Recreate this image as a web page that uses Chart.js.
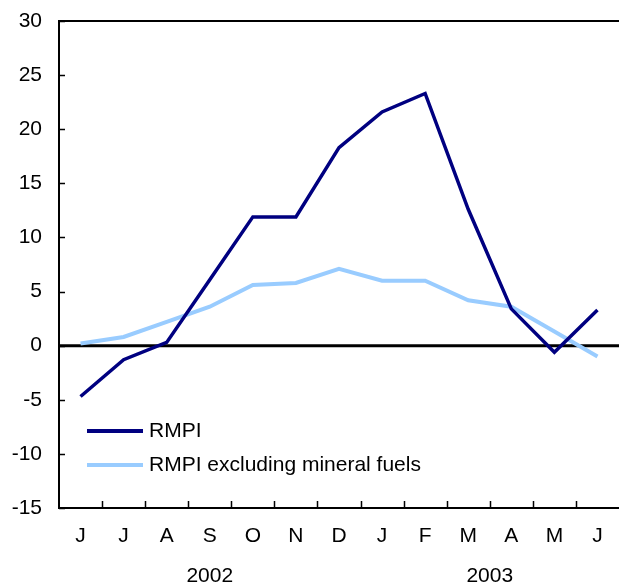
<!DOCTYPE html>
<html>
<head>
<meta charset="utf-8">
<script src="https://cdn.jsdelivr.net/npm/chart.js@4.4.0/dist/chart.umd.min.js"></script>
<style>
  html, body { margin: 0; padding: 0; background: #fff; }
  #wrap { width: 619px; height: 585px; }
</style>
</head>
<body>
<div id="wrap"><canvas id="rmpiChart" width="619" height="585"></canvas></div>
<script>
const month_labels = ['J', 'J', 'A', 'S', 'O', 'N', 'D', 'J', 'F', 'M', 'A', 'M', 'J'];
const year_labels = ['2002', '2003'];
const series_names = ['RMPI', 'RMPI excluding mineral fuels'];

const rmpi = [-4.7, -1.3, 0.3, 6.1, 11.9, 11.9, 18.3, 21.6, 23.3, 12.6, 3.4, -0.6, 3.3];
const rmpi_ex_fuels = [0.2, 0.8, 2.2, 3.6, 5.6, 5.8, 7.1, 6.0, 6.0, 4.2, 3.6, 1.3, -1.0];

const FONT = 'Liberation Sans, Arial, sans-serif';
const FSIZE = 21;

// axis decorations: inward ticks, top rule, zero line, years, legend
const decorations = {
    id: 'decorations',
    beforeDatasetsDraw(chart) {
        const ctx = chart.ctx;
        const area = chart.chartArea;
        const y = chart.scales.y;
        ctx.save();
        ctx.strokeStyle = '#000';
        ctx.lineWidth = 3;
        ctx.beginPath();
        ctx.moveTo(area.left, y.getPixelForValue(0));
        ctx.lineTo(area.right, y.getPixelForValue(0));
        ctx.stroke();
        ctx.restore();
    },
    afterDraw(chart) {
        const ctx = chart.ctx;
        const area = chart.chartArea;
        const x = chart.scales.x;
        const y = chart.scales.y;
        ctx.save();
        ctx.strokeStyle = '#000';
        ctx.lineWidth = 2;
        ctx.beginPath();
        ctx.moveTo(area.left, area.top);
        ctx.lineTo(chart.width, area.top);
        ctx.stroke();

        ctx.lineWidth = 1.5;
        ctx.beginPath();
        y.ticks.forEach(t => {
            const py = Math.round(y.getPixelForValue(t.value)) + 0.5;
            ctx.moveTo(area.left, py);
            ctx.lineTo(area.left + 6, py);
        });
        for (let i = 1; i < month_labels.length; i++) {
            const px = Math.round((x.getPixelForValue(i - 1) + x.getPixelForValue(i)) / 2) + 0.5;
            ctx.moveTo(px, area.bottom);
            ctx.lineTo(px, area.bottom - 7);
        }
        ctx.stroke();

        ctx.fillStyle = '#000';
        ctx.font = FSIZE + 'px ' + FONT;
        ctx.textAlign = 'center';
        ctx.textBaseline = 'middle';
        ctx.fillText(year_labels[0], x.getPixelForValue(3), 576);
        ctx.fillText(year_labels[1], (x.getPixelForValue(9) + x.getPixelForValue(10)) / 2, 576);

        // legend inside plot
        const rows = [431, 465];
        chart.data.datasets.forEach((ds, i) => {
            ctx.strokeStyle = ds.borderColor;
            ctx.lineWidth = 4;
            ctx.beginPath();
            ctx.moveTo(87, rows[i]);
            ctx.lineTo(143, rows[i]);
            ctx.stroke();
            ctx.textAlign = 'left';
            ctx.fillText(ds.label, 149, rows[i]);
        });
        ctx.restore();
    }
};

const config = {
    type: 'line',
    data: {
        labels: month_labels,
        datasets: [{
            label: series_names[0],
            data: rmpi,
            borderColor: '#000080',
            borderWidth: 3.5,
            pointRadius: 0,
            tension: 0
        }, {
            label: series_names[1],
            data: rmpi_ex_fuels,
            borderColor: '#99ccff',
            borderWidth: 4,
            pointRadius: 0,
            tension: 0
        }]
    },
    options: {
        responsive: false,
        animation: false,
        layout: { padding: { top: 21, right: 0, left: 0, bottom: 0 } },
        plugins: {
            legend: { display: false },
            tooltip: { enabled: false }
        },
        scales: {
            x: {
                type: 'category',
                offset: true,
                grid: { display: false, drawTicks: false },
                border: { display: true, color: '#000', width: 2 },
                ticks: { color: '#000', font: { family: FONT, size: FSIZE }, padding: 16, maxRotation: 0, autoSkip: false },
                afterFit(scale) { scale.height = 77; scale.paddingLeft = 0; scale.paddingRight = 0; }
            },
            y: {
                min: -15,
                max: 30,
                grid: { display: false, drawTicks: false },
                border: { display: true, color: '#000', width: 2 },
                ticks: { stepSize: 5, color: '#000', font: { family: FONT, size: FSIZE }, padding: 17 },
                afterFit(scale) { scale.width = 59; scale.paddingTop = 0; scale.paddingBottom = 0; }
            }
        }
    },
    plugins: [decorations]
};

const RmpiChart = new Chart(document.getElementById('rmpiChart'), config);
</script>
</body>
</html>
